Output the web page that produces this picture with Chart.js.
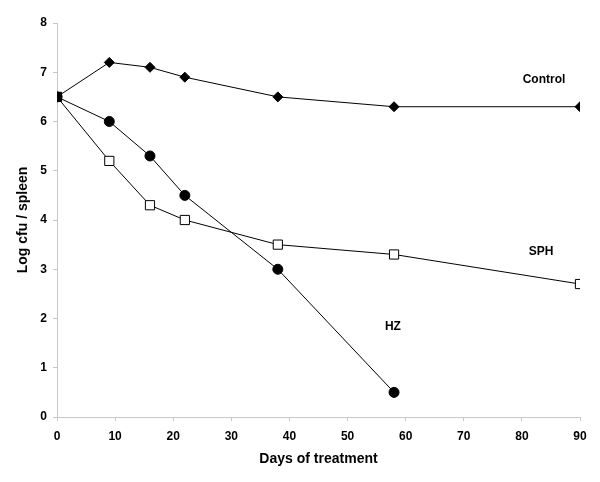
<!DOCTYPE html>
<html>
<head>
<meta charset="utf-8">
<script src="https://cdn.jsdelivr.net/npm/chart.js@4/dist/chart.umd.min.js"></script>
<style>
  html, body { margin: 0; padding: 0; background: #fff; }
  #wrap { width: 600px; height: 482px; }
</style>
</head>
<body>
<div id="wrap"><canvas id="curveChart"></canvas></div>
<script>
// Days of treatment vs log cfu / spleen

const controlDays = [0, 9, 16, 22, 38, 58, 90];
const controlLog = [6.5, 7.2, 7.1, 6.9, 6.5, 6.3, 6.3];

const hzDays = [0, 9, 16, 22, 38, 58];
const hzLog = [6.5, 6.0, 5.3, 4.5, 3.0, 0.5];

const sphDays = [0, 9, 16, 22, 38, 58, 90];
const sphLog = [6.5, 5.2, 4.3, 4.0, 3.5, 3.3, 2.7];

// series names and where they sit (data units)
const seriesNames = ['Control', 'SPH', 'HZ'];
const nameX = [83.8, 83.3, 57.8];
const nameY = [6.84, 3.35, 1.83];

const FONT = "'Liberation Sans', Arial, sans-serif";
const AXIS_GREY = '#c8c8c8';

function toPoints(xs, ys) {
  return xs.map((x, i) => ({ x: x, y: ys[i] }));
}

// Draws the series names next to the curves
const seriesNamePlugin = {
  id: 'seriesNames',
  afterDatasetsDraw(chart) {
    const { ctx, scales } = chart;
    ctx.save();
    ctx.font = 'bold 12px ' + FONT;
    ctx.fillStyle = '#000';
    ctx.textAlign = 'center';
    ctx.textBaseline = 'middle';
    seriesNames.forEach((name, i) => {
      ctx.fillText(name, scales.x.getPixelForValue(nameX[i]), scales.y.getPixelForValue(nameY[i]));
    });
    ctx.restore();
  },
};

window.addEventListener('DOMContentLoaded', function () {
  const ctx = document.getElementById('curveChart');

  new Chart(ctx, {
    type: 'line',
    data: {
      datasets: [
        {
          label: 'Control',
          data: toPoints(controlDays, controlLog),
          borderColor: '#000',
          borderWidth: 1,
          backgroundColor: '#000',
          pointStyle: 'rectRot',
          pointRadius: 5,
          pointBorderWidth: 1,
          pointBorderColor: '#000',
        },
        {
          label: 'HZ',
          data: toPoints(hzDays, hzLog),
          borderColor: '#000',
          borderWidth: 1,
          backgroundColor: '#000',
          pointStyle: 'circle',
          pointRadius: 5,
          pointBorderWidth: 1,
          pointBorderColor: '#000',
        },
        {
          label: 'SPH',
          data: toPoints(sphDays, sphLog),
          borderColor: '#000',
          borderWidth: 1,
          pointBackgroundColor: sphDays.map((d, i) => (i === 0 ? '#000' : '#fff')),
          pointStyle: 'rect',
          pointRadius: 6.5,
          pointBorderWidth: 1,
          pointBorderColor: '#000',
        },
      ],
    },
    options: {
      responsive: true,
      maintainAspectRatio: false,
      animation: false,
      layout: { padding: { top: 23, right: 20, left: 0, bottom: 0 } },
      plugins: {
        legend: { display: false },
        tooltip: { enabled: false },
      },
      scales: {
        x: {
          type: 'linear',
          min: 0,
          max: 90,
          ticks: {
            stepSize: 10,
            padding: 8,
            color: '#000',
            font: { family: FONT, size: 12, weight: 'bold' },
          },
          grid: {
            drawOnChartArea: false,
            tickLength: 4,
            color: AXIS_GREY,
          },
          border: { color: AXIS_GREY },
          title: {
            display: true,
            text: 'Days of treatment',
            color: '#000',
            font: { family: FONT, size: 14, weight: 'bold' },
            padding: { top: 0, bottom: 14 },
          },
          afterFit(scale) {
            scale.height = 65;
          },
        },
        y: {
          min: 0,
          max: 8,
          ticks: {
            stepSize: 1,
            padding: 6,
            color: '#000',
            font: { family: FONT, size: 12, weight: 'bold' },
          },
          grid: {
            drawOnChartArea: false,
            tickLength: 4,
            color: AXIS_GREY,
          },
          border: { color: AXIS_GREY },
          title: {
            display: true,
            text: 'Log cfu / spleen',
            color: '#000',
            font: { family: FONT, size: 14, weight: 'bold' },
            padding: { top: 15, bottom: 0 },
          },
          afterFit(scale) {
            scale.width = 57;
          },
        },
      },
    },
    plugins: [seriesNamePlugin],
  });
});
</script>
</body>
</html>
